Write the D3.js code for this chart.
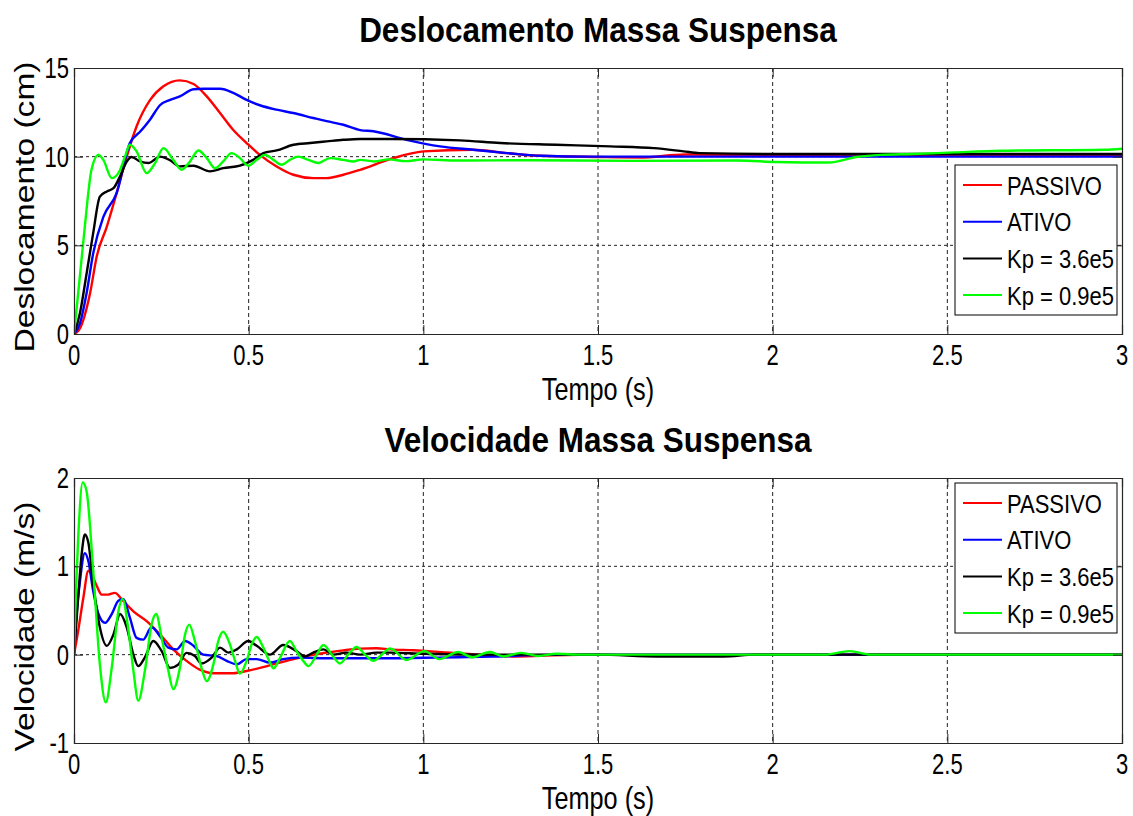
<!DOCTYPE html>
<html>
<head>
<meta charset="utf-8">
<script src="https://cdn.jsdelivr.net/npm/d3@7"></script>
<style>
    body { margin: 0; background: #fff; }
    svg { display: block; }
</style>
</head>
<body>
<svg id="chart" width="1133" height="816"></svg>
<script>
// ---- data: [tempo (s), valor] ----
const seriesNames = ['PASSIVO', 'ATIVO', 'Kp = 3.6e5', 'Kp = 0.9e5'];
const seriesColors = ['#ff0000', '#0000ff', '#000000', '#00ff00'];
const xTicks = [0, 0.5, 1, 1.5, 2, 2.5, 3];
const xTickLabels = ['0', '0.5', '1', '1.5', '2', '2.5', '3'];
const deslTicks = [0, 5, 10, 15];
const velTicks = [-1, 0, 1, 2];

const passivoDesl = [[0, 0], [0.017, 0.32], [0.046, 2.3], [0.065, 4.37], [0.094, 6.06], [0.122, 7.94], [0.151, 10.0],
    [0.179, 11.7], [0.218, 13.2], [0.256, 13.97], [0.303, 14.3], [0.342, 14.1], [0.38, 13.4], [0.418, 12.46],
    [0.456, 11.5], [0.494, 10.77], [0.532, 10.1], [0.58, 9.45], [0.628, 8.98], [0.685, 8.79], [0.723, 8.79],
    [0.771, 8.98], [0.819, 9.26], [0.905, 9.86], [1.0, 10.3], [1.14, 10.39], [1.24, 10.2], [1.33, 10.05],
    [1.5, 9.98], [1.62, 9.95], [1.75, 10.12], [2.0, 10.1], [2.5, 10.05], [3, 10.05]];
const ativoDesl = [[0, 0], [0.017, 0.6], [0.036, 2.3], [0.055, 4.55], [0.084, 6.6], [0.122, 7.94], [0.16, 10.77],
    [0.189, 11.4], [0.218, 12.1], [0.246, 12.9], [0.275, 13.2], [0.303, 13.4], [0.342, 13.8], [0.37, 13.83],
    [0.418, 13.83], [0.456, 13.6], [0.494, 13.2], [0.532, 12.9], [0.58, 12.65], [0.628, 12.46], [0.685, 12.18],
    [0.723, 12.0], [0.771, 11.8], [0.819, 11.5], [0.857, 11.43], [0.952, 10.95], [1.048, 10.58], [1.143, 10.39],
    [1.24, 10.2], [1.334, 10.05], [1.486, 10.0], [2.0, 10.0], [3, 10.0]];
const kp36Desl = [[0, 0], [0.017, 1.17], [0.036, 3.4], [0.055, 5.7], [0.074, 7.75], [0.094, 8.04], [0.113, 8.22],
    [0.132, 8.9], [0.151, 9.73], [0.165, 9.98], [0.189, 9.73], [0.213, 9.64], [0.246, 10.0], [0.275, 9.8],
    [0.303, 9.45], [0.342, 9.49], [0.389, 9.17], [0.427, 9.35], [0.475, 9.49], [0.513, 9.82], [0.542, 10.2],
    [0.58, 10.35], [0.628, 10.67], [0.676, 10.77], [0.723, 10.86], [0.771, 10.95], [0.819, 11.0], [0.905, 11.0],
    [1.105, 10.92], [1.22, 10.77], [1.38, 10.67], [1.535, 10.58], [1.66, 10.48], [1.745, 10.3], [1.79, 10.2],
    [2.0, 10.15], [2.5, 10.15], [3, 10.15]];
const kp09Desl = [[0, 0], [0.012, 2.3], [0.031, 6.06], [0.05, 9.26], [0.07, 10.1], [0.084, 9.82], [0.108, 8.79],
    [0.127, 9.07], [0.146, 10.0], [0.16, 10.67], [0.179, 10.3], [0.208, 9.07], [0.232, 9.64], [0.256, 10.48],
    [0.284, 9.82], [0.308, 9.26], [0.332, 9.73], [0.356, 10.35], [0.38, 9.92], [0.404, 9.35], [0.427, 9.73],
    [0.451, 10.2], [0.475, 9.92], [0.499, 9.49], [0.523, 9.82], [0.547, 10.1], [0.571, 9.82], [0.594, 9.54],
    [0.618, 9.82], [0.642, 10.0], [0.671, 9.82], [0.699, 9.64], [0.733, 9.92], [0.771, 9.82], [0.8, 9.73],
    [0.819, 9.82], [0.86, 9.73], [0.9, 9.85], [0.95, 9.75], [1.0, 9.85], [1.1, 9.78], [1.3, 9.8], [1.6, 9.76],
    [1.9, 9.78], [2.01, 9.7], [2.16, 9.67], [2.24, 9.98], [2.31, 10.1], [2.4, 10.15], [2.52, 10.24],
    [2.65, 10.33], [2.95, 10.39], [3, 10.45]];

const passivoVel = [[0, 0], [0.012, 0.27], [0.027, 0.65], [0.041, 0.95], [0.05, 0.91], [0.065, 0.78], [0.079, 0.68],
    [0.098, 0.68], [0.117, 0.7], [0.136, 0.63], [0.17, 0.49], [0.208, 0.38], [0.246, 0.23], [0.284, 0.06],
    [0.322, -0.07], [0.36, -0.17], [0.399, -0.21], [0.456, -0.21], [0.494, -0.185], [0.552, -0.13],
    [0.609, -0.07], [0.666, -0.015], [0.723, 0.023], [0.771, 0.049], [0.819, 0.068], [0.866, 0.072],
    [0.905, 0.06], [0.972, 0.05], [1.067, 0.024], [1.16, 0], [1.257, -0.02], [1.35, -0.01], [1.5, 0], [3, 0]];
const ativoVel = [[0, 0], [0.008, 0.49], [0.017, 0.83], [0.031, 1.15], [0.041, 1.06], [0.055, 0.72], [0.07, 0.46],
    [0.089, 0.36], [0.108, 0.46], [0.127, 0.61], [0.141, 0.63], [0.16, 0.42], [0.179, 0.19], [0.198, 0.17],
    [0.222, 0.31], [0.246, 0.21], [0.27, 0.08], [0.294, 0.06], [0.318, 0.155], [0.342, 0.1], [0.37, 0],
    [0.408, -0.015], [0.437, -0.07], [0.466, -0.11], [0.494, -0.05], [0.523, -0.05], [0.561, -0.09],
    [0.599, -0.05], [0.647, -0.034], [0.723, -0.04], [0.819, -0.04], [0.905, -0.04], [1.0, -0.035],
    [1.1, -0.03], [1.2, -0.02], [1.4, 0], [3, 0]];
const kp36Vel = [[0, 0], [0.012, 0.65], [0.022, 1.14], [0.031, 1.36], [0.041, 1.27], [0.055, 0.8], [0.074, 0.31],
    [0.094, 0.1], [0.113, 0.23], [0.132, 0.46], [0.151, 0.31], [0.17, 0], [0.184, -0.13], [0.203, -0.03],
    [0.227, 0.155], [0.251, 0.04], [0.275, -0.15], [0.299, -0.11], [0.322, 0.02], [0.346, -0.015],
    [0.365, -0.1], [0.394, -0.034], [0.418, 0.08], [0.442, 0.023], [0.466, 0.06], [0.499, 0.155],
    [0.523, 0.1], [0.561, 0], [0.599, 0.11], [0.637, 0.04], [0.661, -0.02], [0.685, 0.023], [0.714, 0.06],
    [0.742, 0], [0.78, 0.023], [0.819, 0], [0.866, 0.023], [0.905, 0.023], [1.0, 0.01], [1.2, 0], [1.5, 0],
    [1.67, -0.02], [1.86, -0.02], [1.95, 0], [3, 0]];
const kp09Vel = [[0, 0], [0.006, 0.76], [0.012, 1.32], [0.025, 1.95], [0.036, 1.85], [0.055, 0.95], [0.074, -0.11],
    [0.091, -0.54], [0.108, -0.15], [0.127, 0.49], [0.139, 0.63], [0.156, 0.27], [0.17, -0.18], [0.184, -0.52],
    [0.203, -0.18], [0.222, 0.34], [0.235, 0.46], [0.251, 0.19], [0.27, -0.18], [0.284, -0.39], [0.303, -0.15],
    [0.318, 0.23], [0.33, 0.34], [0.346, 0.155], [0.365, -0.15], [0.38, -0.3], [0.399, -0.11], [0.413, 0.155],
    [0.427, 0.26], [0.446, 0.12], [0.461, -0.07], [0.475, -0.215], [0.494, -0.07], [0.509, 0.12], [0.523, 0.2],
    [0.542, 0.08], [0.561, -0.09], [0.571, -0.155], [0.59, -0.034], [0.618, 0.155], [0.637, 0.04],
    [0.656, -0.07], [0.671, -0.13], [0.695, 0], [0.714, 0.11], [0.738, 0], [0.761, -0.1], [0.785, 0],
    [0.809, 0.087], [0.833, 0], [0.857, -0.07], [0.881, 0], [0.905, 0.07], [0.952, -0.06], [1.003, 0.04],
    [1.046, -0.05], [1.1, 0.03], [1.14, -0.03], [1.19, 0.03], [1.23, -0.02], [1.28, 0.02], [1.33, -0.015],
    [1.38, 0.01], [1.45, 0], [2.15, 0], [2.22, 0.04], [2.28, 0], [3, 0]];

// ---- drawing ----
const svg = d3.select('#chart');
const fontFamily = '"Liberation Sans", Arial, sans-serif';
const xLeft = 74;
const xRight = 1122;

// MATLAB text in the figure looks stretched vertically, so squeeze horizontally
const addText = (g, x, y, str, size, sx, anchor, weight) => g
    .append('text')
    .attr('transform', `translate(${x},${y}) scale(${sx},1)`)
    .attr('text-anchor', anchor)
    .attr('font-family', fontFamily)
    .attr('font-size', size)
    .attr('font-weight', weight || 'normal')
    .attr('fill', '#000')
    .text(str);

const drawPanel = (top, bottom, yDomain, yTicks, series, title, yLabel, yLabelShift, legendTop, clipId) => {
    const x = d3.scaleLinear().domain([0, 3]).range([xLeft, xRight]);
    const y = d3.scaleLinear().domain(yDomain).range([bottom, top]);
    const g = svg.append('g');

    g.append('rect')
        .attr('x', xLeft).attr('y', top)
        .attr('width', xRight - xLeft).attr('height', bottom - top)
        .attr('fill', '#fff');

    // grid
    g.selectAll('.vgrid')
        .data(xTicks.filter(d => d > 0 && d < 3))
        .enter()
        .append('line')
        .attr('x1', d => x(d)).attr('x2', d => x(d))
        .attr('y1', top).attr('y2', bottom)
        .attr('stroke', '#222').attr('stroke-width', 1)
        .attr('stroke-dasharray', '4,3');
    g.selectAll('.hgrid')
        .data(yTicks.filter(d => d > yDomain[0] && d < yDomain[1]))
        .enter()
        .append('line')
        .attr('x1', xLeft).attr('x2', xRight)
        .attr('y1', d => y(d)).attr('y2', d => y(d))
        .attr('stroke', '#222').attr('stroke-width', 1)
        .attr('stroke-dasharray', '3,3');

    // curves
    g.append('clipPath').attr('id', clipId)
        .append('rect')
        .attr('x', xLeft).attr('y', top)
        .attr('width', xRight - xLeft).attr('height', bottom - top);

    const line = d3.line()
        .x(d => x(d[0]))
        .y(d => y(d[1]))
        .curve(d3.curveMonotoneX);

    g.append('g')
        .attr('clip-path', `url(#${clipId})`)
        .selectAll('path')
        .data(series)
        .enter()
        .append('path')
        .attr('d', d => line(d))
        .attr('fill', 'none')
        .attr('stroke', (d, i) => seriesColors[i])
        .attr('stroke-width', 2.4)
        .attr('stroke-linejoin', 'round');

    // axes with inward ticks, box on
    const tickLen = 9;
    const axisColor = '#262626';
    const xAxisB = d3.axisBottom(x).tickValues(xTicks).tickSize(-tickLen).tickFormat('');
    const xAxisT = d3.axisTop(x).tickValues(xTicks).tickSize(-tickLen).tickFormat('');
    const yAxisL = d3.axisLeft(y).tickValues(yTicks).tickSize(-tickLen).tickFormat('');
    const yAxisR = d3.axisRight(y).tickValues(yTicks).tickSize(-tickLen).tickFormat('');
    [[xAxisB, `translate(0,${bottom})`], [xAxisT, `translate(0,${top})`],
        [yAxisL, `translate(${xLeft},0)`], [yAxisR, `translate(${xRight},0)`]].forEach(([ax, tr]) => {
        const a = g.append('g').attr('transform', tr).call(ax);
        a.selectAll('path').attr('stroke', axisColor).attr('stroke-width', 1.2);
        a.selectAll('line').attr('stroke', axisColor);
    });

    // tick labels
    xTicks.forEach((d, i) => addText(g, x(d), bottom + 31, xTickLabels[i], 29, 0.76, 'middle'));
    yTicks.forEach(d => addText(g, xLeft - 5, y(d) + 10, String(d), 29, 0.76, 'end'));

    // labels and title
    addText(g, (xLeft + xRight) / 2, bottom + 66, 'Tempo (s)', 32, 0.79, 'middle');
    addText(g, (xLeft + xRight) / 2, top - 26, title, 35, 0.9, 'middle', 'bold');
    g.append('text')
        .attr('transform', `translate(34,${(top + bottom) / 2 + yLabelShift}) rotate(-90) scale(1.2,1)`)
        .attr('text-anchor', 'middle')
        .attr('font-family', fontFamily)
        .attr('font-size', 28)
        .attr('fill', '#000')
        .text(yLabel);

    // legend
    const lg = g.append('g').attr('transform', `translate(955,${legendTop})`);
    lg.append('rect')
        .attr('width', 162).attr('height', 150)
        .attr('fill', '#fff').attr('stroke', '#000').attr('stroke-width', 1);
    seriesNames.forEach((name, i) => {
        const cy = 20 + i * 36.7;
        lg.append('line')
            .attr('x1', 8).attr('x2', 47)
            .attr('y1', cy).attr('y2', cy)
            .attr('stroke', seriesColors[i]).attr('stroke-width', 2);
        addText(lg, 52, cy + 9.5, name, 26.5, 0.83, 'start');
    });
};

drawPanel(68, 334, [0, 15], deslTicks, [passivoDesl, ativoDesl, kp36Desl, kp09Desl],
    'Deslocamento Massa Suspensa', 'Deslocamento (cm)', 6, 165, 'clipDesl');
drawPanel(478, 743, [-1, 2], velTicks, [passivoVel, ativoVel, kp36Vel, kp09Vel],
    'Velocidade Massa Suspensa', 'Velocidade (m/s)', 16, 483, 'clipVel');
</script>
</body>
</html>
